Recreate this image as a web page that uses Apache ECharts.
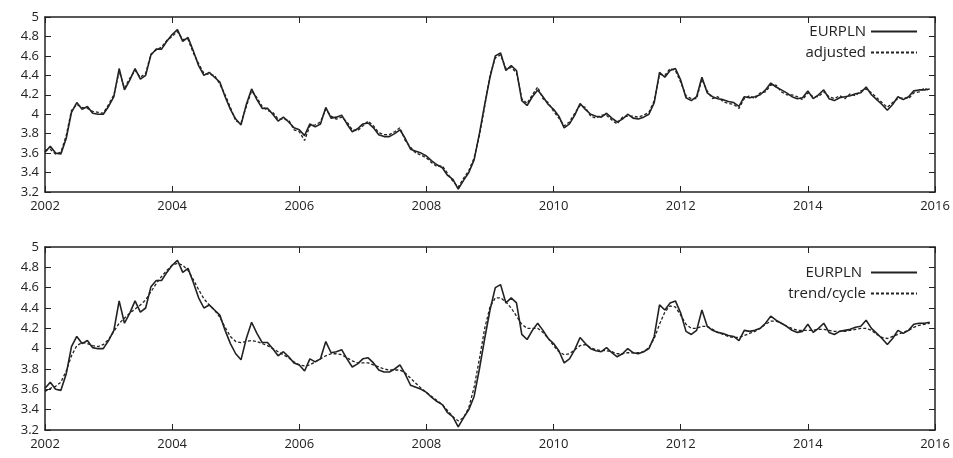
<!DOCTYPE html>
<html>
<head>
<meta charset="utf-8">
<script src="https://cdn.jsdelivr.net/npm/echarts@6/dist/echarts.min.js"></script>
<style>html,body{margin:0;padding:0;background:#fff}#chart{width:953px;height:458px}</style>
</head>
<body>
<div id="chart"></div>
<script>
// monthly values Jan 2002 .. Dec 2015
var eurpln = [
  3.61,3.67,3.60,3.59,3.75,4.02,4.12,4.05,4.08,4.01,4.00,4.00,
  4.08,4.18,4.47,4.25,4.35,4.47,4.36,4.40,4.61,4.67,4.67,4.75,
  4.82,4.87,4.75,4.79,4.65,4.50,4.40,4.43,4.38,4.33,4.18,4.05,
  3.95,3.89,4.10,4.26,4.15,4.06,4.06,4.00,3.93,3.97,3.92,3.86,
  3.84,3.78,3.90,3.87,3.90,4.07,3.96,3.97,3.99,3.90,3.82,3.85,
  3.90,3.91,3.86,3.79,3.77,3.77,3.80,3.84,3.75,3.64,3.62,3.60,
  3.57,3.52,3.48,3.45,3.37,3.33,3.23,3.32,3.40,3.53,3.80,4.10,
  4.38,4.60,4.63,4.45,4.50,4.45,4.14,4.09,4.18,4.25,4.18,4.10,
  4.05,3.98,3.86,3.90,3.99,4.11,4.05,4.00,3.98,3.97,4.01,3.96,
  3.92,3.95,4.00,3.96,3.95,3.97,4.00,4.12,4.43,4.38,4.45,4.47,
  4.35,4.17,4.14,4.18,4.38,4.22,4.18,4.16,4.15,4.13,4.12,4.08,
  4.18,4.17,4.18,4.20,4.25,4.32,4.28,4.25,4.22,4.18,4.16,4.17,
  4.24,4.16,4.20,4.25,4.16,4.14,4.17,4.18,4.19,4.21,4.22,4.28,
  4.20,4.15,4.10,4.04,4.10,4.18,4.15,4.18,4.24,4.25,4.25,4.26
];
var adjusted = [
  3.63,3.64,3.59,3.61,3.78,4.04,4.10,4.07,4.06,4.03,4.02,4.01,
  4.10,4.20,4.44,4.27,4.37,4.45,4.38,4.42,4.62,4.66,4.69,4.76,
  4.80,4.85,4.77,4.77,4.63,4.52,4.42,4.41,4.40,4.31,4.20,4.07,
  3.93,3.91,4.08,4.24,4.17,4.08,4.04,4.02,3.95,3.95,3.94,3.84,
  3.82,3.73,3.88,3.89,3.92,4.05,3.98,3.95,3.97,3.92,3.84,3.83,
  3.88,3.93,3.88,3.81,3.79,3.79,3.82,3.86,3.73,3.66,3.60,3.58,
  3.55,3.50,3.46,3.47,3.39,3.31,3.25,3.34,3.42,3.55,3.78,4.08,
  4.40,4.58,4.61,4.47,4.48,4.43,4.16,4.11,4.20,4.28,4.16,4.12,
  4.03,3.96,3.88,3.92,4.01,4.09,4.07,3.98,3.96,3.99,3.99,3.94,
  3.90,3.97,3.98,3.98,3.97,3.99,4.02,4.14,4.41,4.40,4.47,4.45,
  4.33,4.19,4.16,4.16,4.36,4.24,4.16,4.18,4.13,4.11,4.10,4.06,
  4.16,4.19,4.16,4.22,4.23,4.30,4.30,4.23,4.20,4.20,4.18,4.15,
  4.22,4.18,4.18,4.23,4.18,4.16,4.19,4.16,4.21,4.19,4.24,4.26,
  4.22,4.17,4.12,4.07,4.12,4.16,4.17,4.16,4.22,4.23,4.27,4.24
];
var trend = [
  3.58,3.61,3.63,3.67,3.78,3.93,4.03,4.06,4.05,4.03,4.02,4.04,
  4.09,4.17,4.25,4.30,4.35,4.39,4.43,4.48,4.56,4.64,4.71,4.77,
  4.82,4.84,4.82,4.77,4.68,4.58,4.49,4.43,4.38,4.31,4.21,4.12,
  4.07,4.06,4.07,4.08,4.07,4.05,4.03,4.00,3.97,3.94,3.91,3.87,
  3.84,3.83,3.84,3.87,3.90,3.93,3.95,3.95,3.94,3.91,3.88,3.86,
  3.86,3.86,3.84,3.82,3.80,3.79,3.79,3.79,3.76,3.71,3.66,3.61,
  3.57,3.53,3.49,3.45,3.39,3.33,3.29,3.32,3.42,3.62,3.90,4.20,
  4.41,4.50,4.50,4.46,4.40,4.32,4.24,4.20,4.20,4.20,4.16,4.10,
  4.03,3.97,3.94,3.95,3.99,4.03,4.04,4.01,3.99,3.98,3.98,3.97,
  3.95,3.95,3.96,3.96,3.96,3.97,4.01,4.10,4.24,4.36,4.42,4.41,
  4.33,4.24,4.20,4.20,4.22,4.22,4.19,4.16,4.14,4.12,4.11,4.11,
  4.13,4.15,4.17,4.20,4.24,4.27,4.27,4.25,4.22,4.20,4.18,4.18,
  4.18,4.18,4.19,4.19,4.18,4.17,4.17,4.17,4.18,4.19,4.20,4.20,
  4.18,4.14,4.11,4.10,4.12,4.14,4.16,4.18,4.21,4.23,4.24,4.25
];
var yTicks = [3.2, 3.4, 3.6, 3.8, 4, 4.2, 4.4, 4.6, 4.8, 5];

function pairs(arr) {
  return arr.map(function (v, i) { return [2002 + i / 12, v]; });
}

var font = 'Open Sans';
var grids = [
  { left: 45, right: 18, top: 17, height: 175 },
  { left: 45, right: 18, top: 247, height: 183 }
];
var xAxes = [], yAxes = [];
grids.forEach(function (g, gi) {
  [0, 1].forEach(function (side) {
    xAxes.push({
      type: 'value', gridIndex: gi, min: 2002, max: 2016, interval: 2,
      position: side ? 'top' : 'bottom',
      axisLine: { show: true, onZero: false, lineStyle: { color: '#222', width: 1.5 } },
      axisTick: { inside: true, length: 6, lineStyle: { color: '#222' } },
      axisLabel: { show: !side, color: '#222', fontFamily: font, fontSize: 13, margin: 8,
        formatter: function (v) { return String(v); } },
      splitLine: { show: false }
    });
    yAxes.push({
      type: 'value', gridIndex: gi, min: 3.2, max: 5, interval: 0.2,
      position: side ? 'right' : 'left',
      axisLine: { show: true, onZero: false, lineStyle: { color: '#222', width: 1.5 } },
      axisTick: { inside: true, length: 6, lineStyle: { color: '#222' } },
      axisLabel: {
        show: !side, color: '#222', fontFamily: font, fontSize: 13, margin: 6,
        formatter: function (v) {
          var r = Math.round(v * 10) / 10;
          return yTicks.indexOf(r) >= 0 ? String(r) : '';
        }
      },
      splitLine: { show: false }
    });
  });
});

function line(name, data, gi, dashed) {
  return {
    name: name, type: 'line', data: pairs(data),
    xAxisIndex: gi * 2, yAxisIndex: gi * 2,
    symbol: 'none', z: dashed ? 2 : 3,
    lineStyle: { color: '#222', width: dashed ? 1.3 : 1.6, type: dashed ? [3, 2] : 'solid' },
    itemStyle: { color: '#222' }
  };
}

var legendBase = {
  orient: 'vertical', right: 30, itemWidth: 46, itemHeight: 12, itemGap: 6,
  align: 'right',
  itemStyle: { opacity: 0 },
  textStyle: { color: '#222', fontFamily: font, fontSize: 15 }
};

var myChart = echarts.init(document.getElementById('chart'));
myChart.setOption({
  animation: false,
  backgroundColor: '#fff',
  grid: grids,
  xAxis: xAxes,
  yAxis: yAxes,
  legend: [
    Object.assign({}, legendBase, { top: 19, data: ['EURPLN', 'adjusted'] }),
    Object.assign({}, legendBase, { top: 260, data: ['EURPLN ', 'trend/cycle'] })
  ],
  series: [
    line('adjusted', adjusted, 0, true),
    line('EURPLN', eurpln, 0, false),
    line('trend/cycle', trend, 1, true),
    line('EURPLN ', eurpln, 1, false)
  ]
});
window.addEventListener('resize', function () { myChart.resize(); });
</script>
</body>
</html>
